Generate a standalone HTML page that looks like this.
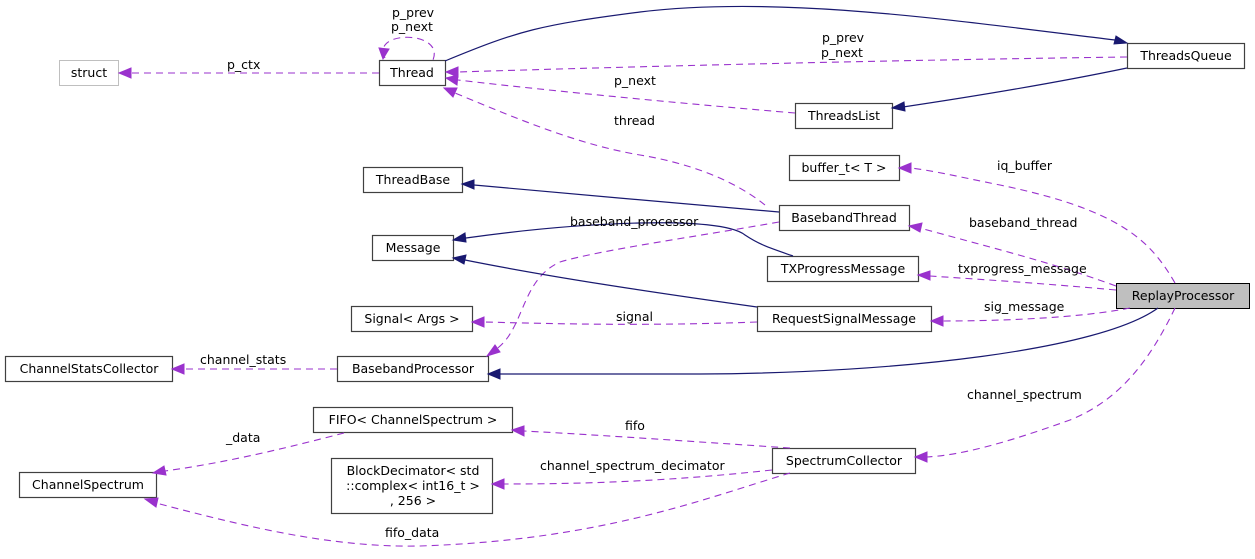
<!DOCTYPE html>
<html><head><meta charset="utf-8"><style>
body{margin:0;background:#fff}
svg text{font-family:"DejaVu Sans","Liberation Sans",sans-serif;font-size:12.5px;fill:#000}
.b{fill:#fff;stroke:#404040;stroke-width:1.2}
.d{fill:none;stroke:#9a32cd;stroke-dasharray:7,5;stroke-width:1.1}
.s{fill:none;stroke:#191970;stroke-width:1.2}
.pa{fill:#9a32cd;stroke:#9a32cd}
.na{fill:#191970;stroke:#191970}
</style></head><body>
<svg width="1255" height="554" viewBox="0 0 1255 554" xmlns="http://www.w3.org/2000/svg">
<!-- nodes -->
<rect x="59.5" y="60.5" width="59" height="25" fill="#fff" stroke="#bfbfbf"/><text x="89" y="77" text-anchor="middle">struct</text>
<rect class="b" x="379.5" y="60.5" width="66" height="25"/><text x="412" y="77" text-anchor="middle">Thread</text>
<rect class="b" x="1127.5" y="43.5" width="117" height="25"/><text x="1186" y="60" text-anchor="middle">ThreadsQueue</text>
<rect class="b" x="795.5" y="103.5" width="97" height="25"/><text x="844" y="120" text-anchor="middle">ThreadsList</text>
<rect class="b" x="789.5" y="155.5" width="110" height="25"/><text x="844" y="172" text-anchor="middle">buffer_t&lt; T &gt;</text>
<rect class="b" x="363.5" y="167.5" width="99" height="25"/><text x="413" y="184" text-anchor="middle">ThreadBase</text>
<rect class="b" x="779.5" y="205.5" width="130" height="25"/><text x="844" y="222" text-anchor="middle">BasebandThread</text>
<rect class="b" x="372.5" y="235.5" width="81" height="25"/><text x="413" y="252" text-anchor="middle">Message</text>
<rect class="b" x="767.5" y="256.5" width="151" height="25"/><text x="843" y="273" text-anchor="middle">TXProgressMessage</text>
<rect x="1116.5" y="283.5" width="133" height="25" fill="#bfbfbf" stroke="#000"/><text x="1183" y="300" text-anchor="middle">ReplayProcessor</text>
<rect class="b" x="351.5" y="306.5" width="121" height="25"/><text x="412" y="323" text-anchor="middle">Signal&lt; Args &gt;</text>
<rect class="b" x="757.5" y="306.5" width="174" height="25"/><text x="844" y="323" text-anchor="middle">RequestSignalMessage</text>
<rect class="b" x="5.5" y="356.5" width="167" height="25"/><text x="89" y="373" text-anchor="middle">ChannelStatsCollector</text>
<rect class="b" x="337.5" y="356.5" width="151" height="25"/><text x="413" y="373" text-anchor="middle">BasebandProcessor</text>
<rect class="b" x="313.5" y="407.5" width="199" height="25"/><text x="413" y="424" text-anchor="middle">FIFO&lt; ChannelSpectrum &gt;</text>
<rect class="b" x="331.5" y="458.5" width="161" height="55"/><text x="413" y="475" text-anchor="middle">BlockDecimator&lt; std</text><text x="413" y="490" text-anchor="middle">::complex&lt; int16_t &gt;</text><text x="413" y="505" text-anchor="middle">, 256 &gt;</text>
<rect class="b" x="772.5" y="448.5" width="143" height="25"/><text x="844" y="465" text-anchor="middle">SpectrumCollector</text>
<rect class="b" x="19.5" y="472.5" width="137" height="25"/><text x="88" y="489" text-anchor="middle">ChannelSpectrum</text>
<!-- edges -->
<path class="d" d="M379,73 H131"/><polygon class="pa" points="119,73 131,68 131,78"/>
<text x="227" y="69">p_ctx</text>
<path class="d" d="M385,58 C370,30 445,30 433,60"/>
<polygon class="pa" points="383,59 379,48 389,49"/>
<text x="392" y="17">p_prev</text><text x="391" y="31">p_next</text>
<path class="s" d="M445,61 C520,30 540,25 640,12 C780,-5 950,20 1115,40"/><polygon class="na" points="1127,43 1114,44 1116,36"/>
<path class="d" d="M1127,57 C900,60 650,66 458,72"/><polygon class="pa" points="446,72 458,67 458,77"/>
<text x="822" y="42">p_prev</text><text x="821" y="57">p_next</text>
<path class="d" d="M795,113 C700,105 560,92 458,80"/><polygon class="pa" points="446,78 458,75 457,85"/>
<text x="614" y="85">p_next</text>
<path class="s" d="M1127,68 C1060,82 970,97 903,107"/><polygon class="na" points="892,108 904,102 905,111"/>
<path class="d" d="M765,205 C740,185 700,165 640,155 C580,145 520,120 455,93"/><polygon class="pa" points="444,88 457,88 453,97"/>
<text x="614" y="125">thread</text>
<path class="s" d="M779,212 C700,205 560,193 474,185"/><polygon class="na" points="462,184 474,180 474,189"/>
<path class="d" d="M1175,283 C1150,240 1120,210 1000,185 C960,177 930,170 910,168"/><polygon class="pa" points="899,168 911,163 911,173"/>
<text x="997" y="170">iq_buffer</text>
<path class="d" d="M1116,286 C1050,262 1000,250 920,228"/><polygon class="pa" points="909,226 922,223 920,232"/>
<text x="969" y="227">baseband_thread</text>
<path class="d" d="M1116,290 C1050,284 990,280 930,276"/><polygon class="pa" points="918,275 930,271 930,280"/>
<text x="958" y="273">txprogress_message</text>
<path class="d" d="M1130,308 C1080,318 1000,321 943,321"/><polygon class="pa" points="931,321 943,316 943,326"/>
<text x="984" y="311">sig_message</text>
<path class="s" d="M793,256 C770,248 760,245 745,235 C720,215 580,222 466,238"/><polygon class="na" points="453,240 465,233 466,242"/>
<text x="570" y="226">baseband_processor</text>
<path class="d" d="M779,222 C700,236 600,250 560,262 C520,280 525,330 495,350"/><polygon class="pa" points="487,356 495,345 500,352"/>
<path class="s" d="M757,307 C650,292 550,277 465,260"/><polygon class="na" points="453,258 466,255 464,264"/>
<path class="d" d="M757,322 C650,326 560,324 484,322"/><polygon class="pa" points="472,322 484,317 484,327"/>
<text x="616" y="321">signal</text>
<path class="s" d="M1158,308 C1100,350 900,373 700,374 H500"/><polygon class="na" points="488,374 500,369 500,379"/>
<path class="d" d="M337,369 H184"/><polygon class="pa" points="172,369 184,364 184,374"/>
<text x="200" y="364">channel_stats</text>
<path class="d" d="M1175,308 C1150,360 1120,400 1070,420 C1000,445 960,455 927,457"/><polygon class="pa" points="915,457 927,452 927,462"/>
<text x="967" y="399">channel_spectrum</text>
<path class="d" d="M790,448 C700,442 600,435 524,431"/><polygon class="pa" points="512,430 524,426 524,436"/>
<text x="625" y="430">fifo</text>
<path class="d" d="M772,470 C680,480 600,484 504,484"/><polygon class="pa" points="492,484 504,479 504,489"/>
<text x="540" y="470">channel_spectrum_decimator</text>
<path class="d" d="M344,433 C290,447 230,462 165,471"/><polygon class="pa" points="153,473 164,466 166,475"/>
<text x="226" y="442">_data</text>
<path class="d" d="M790,473 C700,500 600,540 420,546 C330,548 240,525 156,503"/><polygon class="pa" points="145,499 158,498 156,507"/>
<text x="385" y="537">fifo_data</text>
</svg>
</body></html>
